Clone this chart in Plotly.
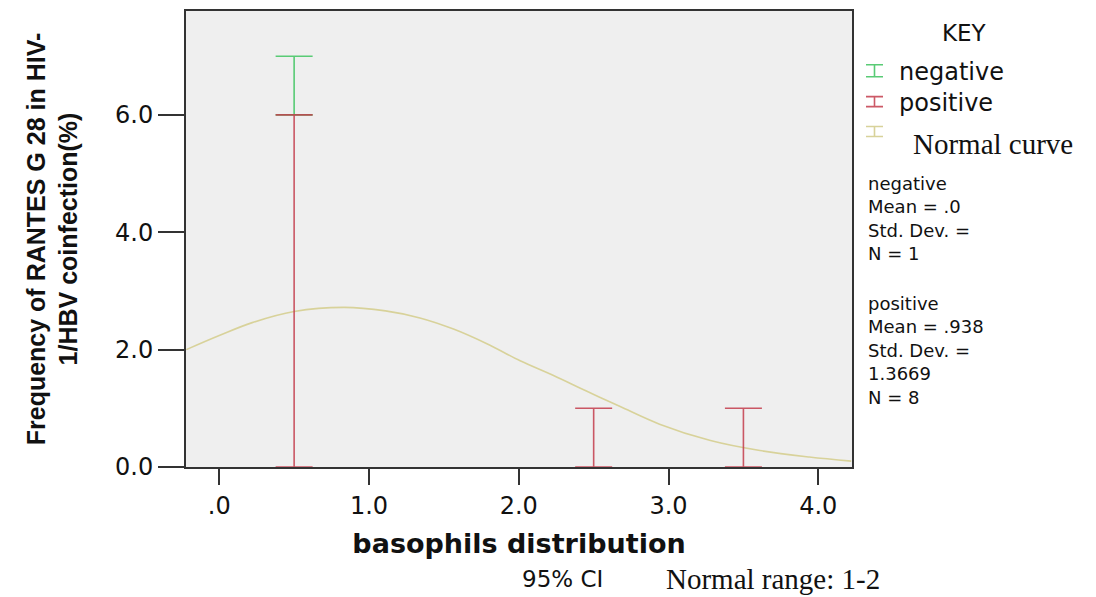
import plotly.graph_objects as go

# ---- data ----
neg_x = [0.5]
neg_low = [6.0]
neg_high = [7.0]

pos_x = [0.5, 2.5, 3.5]
pos_low = [0.0, 0.0, 0.0]
pos_high = [6.0, 1.0, 1.0]

curve_x = [-0.22, 0.0, 0.22, 0.5, 0.835, 1.11, 1.34, 1.564, 1.787, 2.009, 2.232, 2.455, 2.677, 2.94, 3.28, 3.61, 3.94, 4.22]
curve_y = [2.00, 2.24, 2.46, 2.65, 2.72, 2.66, 2.54, 2.35, 2.10, 1.81, 1.56, 1.29, 1.03, 0.73, 0.45, 0.28, 0.17, 0.10]

x_tickvals = [0, 1, 2, 3, 4]
x_ticktext = [".0", "1.0", "2.0", "3.0", "4.0"]
y_tickvals = [0, 2, 4, 6]
y_ticktext = ["0.0", "2.0", "4.0", "6.0"]

stats_neg = ["negative", "Mean = .0", "Std. Dev. =", "N = 1"]
stats_pos = ["positive", "Mean = .938", "Std. Dev. =", "1.3669", "N = 8"]

GREEN = "rgba(80,200,110,0.95)"
RED = "rgba(195,60,75,0.85)"
KHAKI = "#d8d29a"

OFF = 8  # page body margin
W, H = 1096 - OFF, 597 - OFF
L, R, T, B = 186, 852, 9, 467  # plot-area edges in window pixels


def px(xp):
    return (xp - L) / (R - L)


def py(yp):
    return (B - yp) / (B - T)


fig = go.Figure()

fig.add_trace(go.Scatter(x=curve_x, y=curve_y, mode="lines", line=dict(color=KHAKI, width=1.6, shape="spline"),
                         name="Normal curve", hoverinfo="skip"))

fig.add_trace(go.Scatter(
    x=neg_x, y=neg_low, mode="markers", marker=dict(size=1, color="rgba(0,0,0,0)"), name="negative",
    error_y=dict(type="data", symmetric=False,
                 array=[h - l for h, l in zip(neg_high, neg_low)],
                 arrayminus=[0] * len(neg_low), color=GREEN, thickness=1.6, width=18.5)))

fig.add_trace(go.Scatter(
    x=pos_x, y=pos_low, mode="markers", marker=dict(size=1, color="rgba(0,0,0,0)"), name="positive",
    error_y=dict(type="data", symmetric=False,
                 array=[h - l for h, l in zip(pos_high, pos_low)],
                 arrayminus=[0] * len(pos_low), color=RED, thickness=1.6, width=18.5)))

SANS = "DejaVu Sans"

fig.update_layout(
    width=W, height=H,
    margin=dict(l=L - OFF, r=1096 - R, t=T - OFF, b=597 - B),
    paper_bgcolor="white", plot_bgcolor="#efefef",
    showlegend=False,
    xaxis=dict(range=[-0.222, 4.225], tickvals=x_tickvals, ticktext=x_ticktext,
               ticks="outside", ticklen=16, tickwidth=1.5, tickcolor="#333",
               showgrid=False, zeroline=False, showline=True, linecolor="#333", linewidth=1.5, mirror=True,
               tickfont=dict(family=SANS, size=24, color="#111"),
               title=dict(text="basophils distribution", standoff=16,
                          font=dict(family=SANS, size=27, color="#111", weight="bold"))),
    yaxis=dict(range=[0, 7.77], tickvals=y_tickvals, ticktext=y_ticktext,
               ticks="outside", ticklen=26, tickwidth=1.5, tickcolor="#333",
               showgrid=False, zeroline=False, showline=True, linecolor="#333", linewidth=2, mirror=True,
               tickfont=dict(family=SANS, size=24, color="#111"),
               title=dict(text="Frequency of RANTES G 28 in HIV-<br>1/HBV coinfection(%)", standoff=30,
                          font=dict(family="Liberation Sans Narrow, Arial Narrow, Liberation Sans", size=25,
                                    color="#111", weight="bold"))),
)

ann = []
ann.append(dict(text="KEY", x=px(964), y=py(31), xanchor="center", yanchor="middle",
                font=dict(family=SANS, size=23, color="#111")))
for label, yc in [("negative", 70), ("positive", 101)]:
    ann.append(dict(text=label, x=px(897), y=py(yc), xanchor="left", yanchor="middle",
                    font=dict(family=SANS, size=24, color="#111")))
ann.append(dict(text="Normal curve", x=px(911), y=py(143), xanchor="left", yanchor="middle",
                font=dict(family="Liberation Serif", size=29, color="#111")))
ann.append(dict(text="<br>".join(stats_neg), x=px(866), y=py(170), xanchor="left", yanchor="top",
                align="left", font=dict(family=SANS, size=18, color="#111")))
ann.append(dict(text="<br>".join(stats_pos), x=px(866), y=py(290), xanchor="left", yanchor="top",
                align="left", font=dict(family=SANS, size=18, color="#111")))
ann.append(dict(text="95% CI", x=px(562), y=py(579), xanchor="center", yanchor="middle",
                font=dict(family=SANS, size=23, color="#111")))
ann.append(dict(text="Normal range: 1-2", x=px(664), y=py(579), xanchor="left", yanchor="middle",
                font=dict(family="Liberation Serif", size=29, color="#111")))
for a in ann:
    a.update(xref="paper", yref="paper", showarrow=False)
fig.update_layout(annotations=ann)

# legend "I" icons
shapes = []
for y0, y1, col in [(57, 77, GREEN), (89, 107, RED), (119, 137, KHAKI)]:
    x0, x1 = px(866), px(883)
    xc = (x0 + x1) / 2
    ya, yb = py(y0 + 6), py(y1 - 2)
    path = f"M{x0},{ya} L{x1},{ya} M{xc},{ya} L{xc},{yb} M{x0},{yb} L{x1},{yb}"
    shapes.append(dict(type="path", path=path, xref="paper", yref="paper",
                       line=dict(color=col, width=1.6)))
fig.update_layout(shapes=shapes)

fig.write_html("out.html")
